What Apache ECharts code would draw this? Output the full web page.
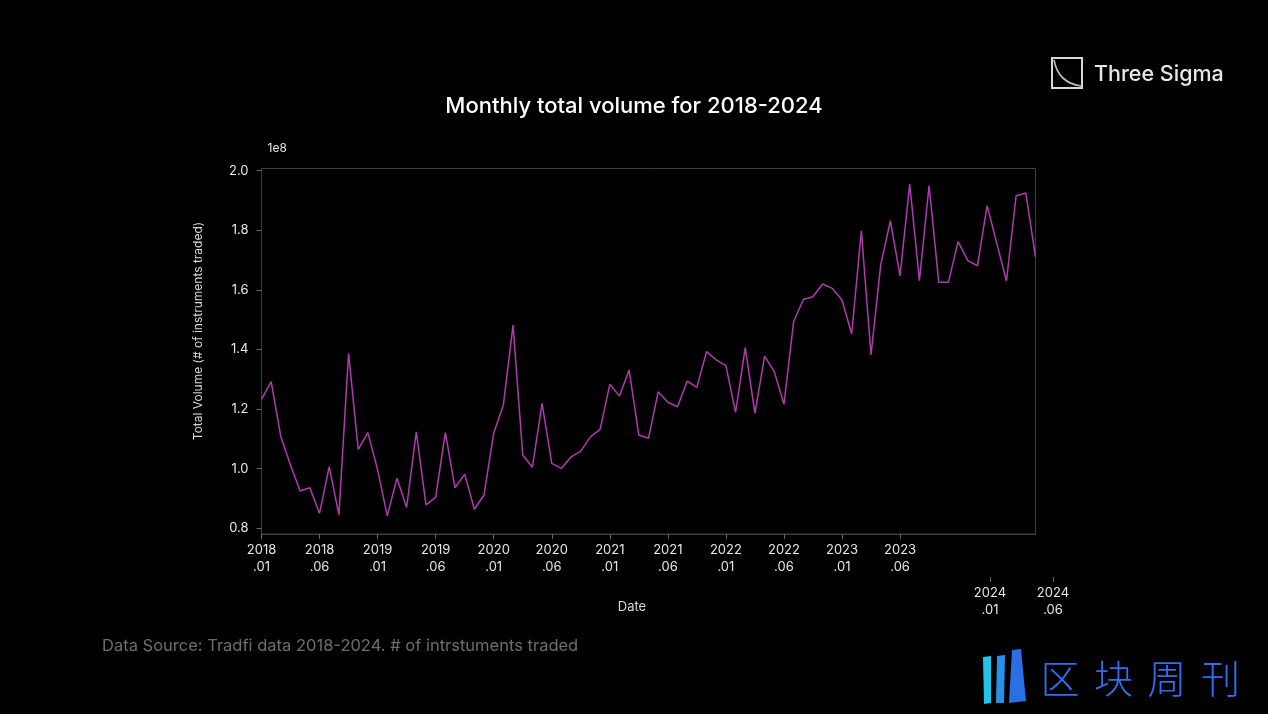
<!DOCTYPE html>
<html><head><meta charset="utf-8">
<script src="https://cdn.jsdelivr.net/npm/echarts@6/dist/echarts.min.js"></script>
<style>html,body{margin:0;padding:0;background:#000;}#c{width:1268px;height:714px;}</style>
</head><body><div id="c"></div>
<script>
// Monthly categories (81 points)
const months = [
 '2018-01','2018-02','2018-03','2018-04','2018-05','2018-06','2018-07','2018-08','2018-09','2018-10','2018-11','2018-12',
 '2019-01','2019-02','2019-03','2019-04','2019-05','2019-06','2019-07','2019-08','2019-09','2019-10','2019-11','2019-12',
 '2020-01','2020-02','2020-03','2020-04','2020-05','2020-06','2020-07','2020-08','2020-09','2020-10','2020-11','2020-12',
 '2021-01','2021-02','2021-03','2021-04','2021-05','2021-06','2021-07','2021-08','2021-09','2021-10','2021-11','2021-12',
 '2022-01','2022-02','2022-03','2022-04','2022-05','2022-06','2022-07','2022-08','2022-09','2022-10','2022-11','2022-12',
 '2023-01','2023-02','2023-03','2023-04','2023-05','2023-06','2023-07','2023-08','2023-09','2023-10','2023-11','2023-12',
 '2024-01','2024-02','2024-03','2024-04','2024-05','2024-06','2024-07','2024-08','2024-09'
];
// Total volume, in units of 1e8 instruments traded
const volume = [
 1.233,1.292,1.107,1.012,0.925,0.936,0.850,1.007,0.845,1.387,1.065,1.121,
 0.996,0.842,0.968,0.870,1.124,0.879,0.904,1.121,0.936,0.982,0.864,0.912,
 1.119,1.214,1.482,1.046,1.005,1.219,1.018,1.001,1.040,1.059,1.107,1.132,
 1.283,1.244,1.331,1.113,1.102,1.258,1.223,1.208,1.294,1.273,1.393,1.365,
 1.346,1.189,1.406,1.186,1.378,1.326,1.216,1.493,1.568,1.577,1.620,1.605,
 1.566,1.452,1.798,1.382,1.684,1.832,1.647,1.955,1.631,1.950,1.626,1.626,
 1.762,1.698,1.681,1.883,1.756,1.630,1.916,1.925,1.711
];
// Tick labels shown every 6th category on the main x axis
const xTickLabels = ['2018\n.01','2018\n.06','2019\n.01','2019\n.06','2020\n.01','2020\n.06',
 '2021\n.01','2021\n.06','2022\n.01','2022\n.06','2023\n.01','2023\n.06'];
// Extra, separately placed tick labels
const extraTickLabels = ['2024\n.01','2024\n.06'];
const yTicks = [0.8,1.0,1.2,1.4,1.6,1.8,2.0];
const watermarkChars = ['区','块','周','刊'];

const FONT = 'Inter, "Noto Sans", sans-serif';
const tickShown = (i) => i % 6 === 0 && i / 6 < xTickLabels.length;

const watermark = watermarkChars.map((ch, k) => ({
  type:'text', x:1060 + k * 53.5, y:678,
  style:{text:ch, fill:'#2f6ff0', fontSize:39, fontWeight:300, fontFamily:'"Noto Sans CJK SC"', align:'center', verticalAlign:'middle'}
}));

const chart = echarts.init(document.getElementById('c'), null, {renderer:'canvas'});
chart.setOption({
  backgroundColor:'#000',
  animation:false,
  title:{
    text:'Monthly total volume for 2018-2024',
    left:'center', top:90,
    textStyle:{color:'#ffffff', fontSize:22, fontWeight:500, fontFamily:FONT}
  },
  grid:[
    {left:261.5, right:232.5, top:168.5, bottom:180, show:true, borderColor:'#3e3e3e', borderWidth:1, backgroundColor:'transparent'},
    {left:990, right:215, top:540, bottom:137}
  ],
  xAxis:[
    {
      type:'category', gridIndex:0, data:months, boundaryGap:false,
      axisLine:{show:true, lineStyle:{color:'#3e3e3e', width:1}},
      axisTick:{show:true, interval:tickShown, length:5, lineStyle:{color:'#666'}},
      axisLabel:{show:true, interval:tickShown, formatter:(v,i)=>xTickLabels[i/6],
        color:'#e6e6e6', fontSize:13, lineHeight:17, margin:8, fontFamily:FONT},
      splitLine:{show:false}
    },
    {
      type:'category', gridIndex:1, data:extraTickLabels, boundaryGap:false,
      axisLine:{show:false},
      axisTick:{show:true, interval:0, length:5, lineStyle:{color:'#666'}},
      axisLabel:{show:true, interval:0, color:'#e6e6e6', fontSize:13, lineHeight:17, margin:8, fontFamily:FONT},
      splitLine:{show:false}
    }
  ],
  yAxis:[
    {
      type:'value', gridIndex:0, min:0.781, max:2.0074,
      axisLine:{show:true, lineStyle:{color:'#3e3e3e', width:1}},
      axisTick:{show:true, customValues:yTicks, length:5, lineStyle:{color:'#666'}},
      axisLabel:{show:true, customValues:yTicks, formatter:(v)=>v.toFixed(1),
        color:'#e6e6e6', fontSize:13, margin:13, fontFamily:FONT},
      splitLine:{show:false},
      name:'1e8', nameLocation:'end', nameGap:14,
      nameTextStyle:{color:'#e6e6e6', fontSize:12, fontFamily:FONT, align:'left', padding:[0,0,0,6]}
    },
    {type:'value', gridIndex:1, min:0, max:1, show:false}
  ],
  series:[{
    type:'line', xAxisIndex:0, yAxisIndex:0, data:volume,
    showSymbol:false, silent:true,
    lineStyle:{color:'#b03ab0', width:1.5}
  }],
  graphic:[
    {type:'text', x:198, y:331, rotation:Math.PI/2,
     style:{text:'Total Volume (# of instruments traded)', fill:'#d8d8d8', fontSize:12, fontFamily:FONT, align:'center', verticalAlign:'middle'}},
    {type:'text', x:632, y:607,
     style:{text:'Date', fill:'#d8d8d8', fontSize:13, fontFamily:FONT, align:'center', verticalAlign:'middle'}},
    {type:'text', x:102, y:646,
     style:{text:'Data Source: Tradfi data 2018-2024. # of intrstuments traded', fill:'#6e6e6e', fontSize:16.5, fontFamily:FONT, align:'left', verticalAlign:'middle'}},
    // Three Sigma logo
    {type:'rect', shape:{x:1052, y:58, width:30, height:30},
     style:{fill:'none', stroke:'#d8d8d8', lineWidth:2}},
    {type:'bezierCurve', shape:{x1:1054, y1:60, cpx1:1057, cpy1:76, cpx2:1066, cpy2:84, x2:1081, y2:86},
     style:{fill:'none', stroke:'#bdbdbd', lineWidth:1.6}},
    {type:'text', x:1094, y:75,
     style:{text:'Three Sigma', fill:'#e8e8e8', fontSize:21.5, fontWeight:500, fontFamily:FONT, align:'left', verticalAlign:'middle'}},
    // watermark icon
    {type:'polygon', shape:{points:[[983,657],[991,656],[991,703],[984,704]]}, style:{fill:'#1fc4ea'}},
    {type:'polygon', shape:{points:[[997,656],[1005,655],[1004,703],[996,703]]}, style:{fill:'#2a8fe8'}},
    {type:'polygon', shape:{points:[[1012,650],[1021,649],[1026,701],[1009,703]]}, style:{fill:'#2a6fe6'}}
  ].concat(watermark)
});
</script>
</body></html>
